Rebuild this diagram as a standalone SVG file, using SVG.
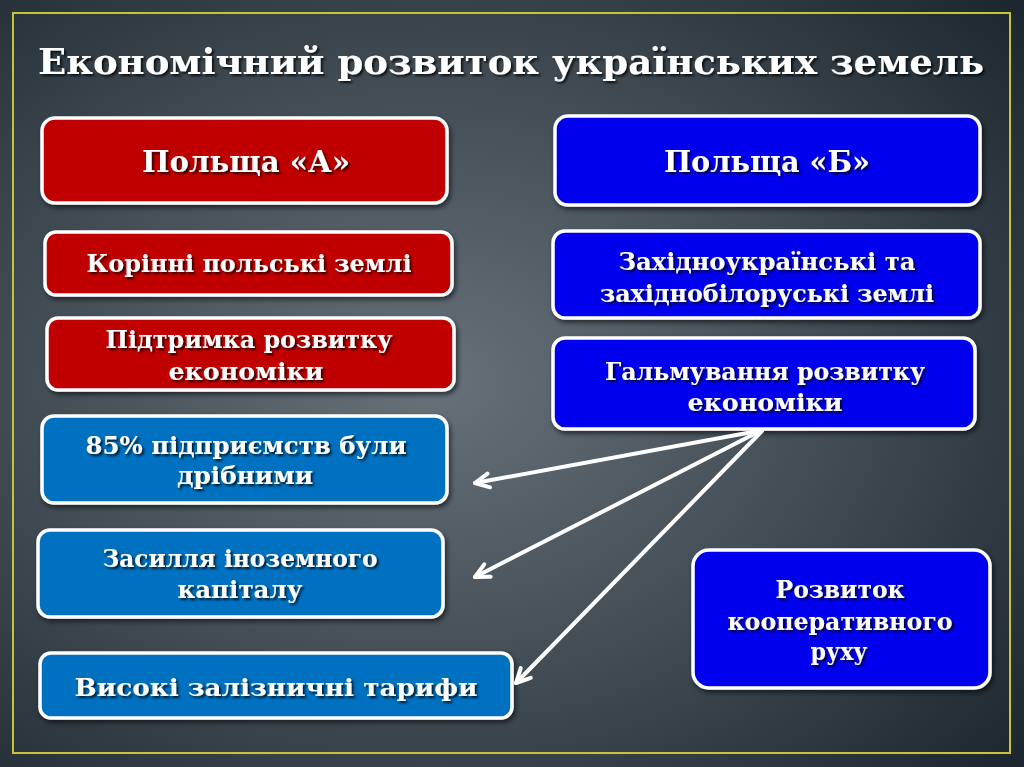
<svg xmlns="http://www.w3.org/2000/svg" width="1024" height="767" viewBox="0 0 1024 767">
<defs>
<radialGradient id="bg" cx="0.42" cy="0.5" r="0.75">
<stop offset="0" stop-color="#66717a"/>
<stop offset="0.55" stop-color="#3f4a53"/>
<stop offset="1" stop-color="#1c2730"/>
</radialGradient>
<filter id="ts" x="-10%" y="-30%" width="120%" height="160%">
<feDropShadow dx="2" dy="2" stdDeviation="1.2" flood-color="#000" flood-opacity="0.75"/>
</filter>
<filter id="bs" x="-10%" y="-20%" width="120%" height="150%">
<feDropShadow dx="2" dy="3" stdDeviation="2.5" flood-color="#000" flood-opacity="0.55"/>
</filter>
<marker id="ah" viewBox="0 0 20 20" refX="17" refY="10" markerWidth="20" markerHeight="20" markerUnits="userSpaceOnUse" orient="auto">
<path d="M3 3 L17 10 L3 17" fill="none" stroke="#fff" stroke-width="4" stroke-linecap="round" stroke-linejoin="round"/>
</marker>
</defs>
<style>
.box{stroke:#fff;stroke-width:3.5;filter:url(#bs)}
.red{fill:#c00000}
.blue{fill:#0000ee}
.steel{fill:#0070c0}
text{font-family:"DejaVu Serif","Liberation Serif",serif;font-weight:bold;fill:#fff;text-anchor:middle;filter:url(#ts)}
.t{font-size:36px}
.h{font-size:30px}
.m{font-size:24px}
.c{stroke:#fff;stroke-width:4;fill:none;stroke-linecap:round}
</style>
<rect width="1024" height="767" fill="url(#bg)"/>
<rect x="13" y="13" width="997" height="740" fill="none" stroke="#c8c23a" stroke-width="2"/>
<text class="t" x="511" y="74" textLength="946" lengthAdjust="spacingAndGlyphs">Економічний розвиток українських земель</text>

<g id="polshaA"><rect class="box red" x="42" y="118" width="405" height="85" rx="13"/><text class="h" x="246" y="172" textLength="208" lengthAdjust="spacingAndGlyphs">Польща «А»</text></g>
<g id="polshaB"><rect class="box blue" x="555" y="116" width="425" height="89" rx="13"/><text class="h" x="767" y="172" textLength="206" lengthAdjust="spacingAndGlyphs">Польща «Б»</text></g>
<g id="korinni"><rect class="box red" x="45" y="232" width="407" height="63" rx="11"/><text class="m" x="249" y="272" textLength="325" lengthAdjust="spacingAndGlyphs">Корінні польські землі</text></g>
<g id="zakhidni"><rect class="box blue" x="553" y="231" width="427" height="87" rx="12"/><text class="m" x="767" y="270" textLength="297" lengthAdjust="spacingAndGlyphs">Західноукраїнські та</text><text class="m" x="767" y="302" textLength="334" lengthAdjust="spacingAndGlyphs">західнобілоруські землі</text></g>
<g id="pidtrymka"><rect class="box red" x="47" y="318" width="407" height="72" rx="11"/><text class="m" x="249" y="348" textLength="287" lengthAdjust="spacingAndGlyphs">Підтримка розвитку</text><text class="m" x="246" y="380" textLength="155" lengthAdjust="spacingAndGlyphs">економіки</text></g>
<g id="halmuvannia"><rect class="box blue" x="553" y="338" width="422" height="91" rx="12"/><text class="m" x="765" y="380" textLength="320" lengthAdjust="spacingAndGlyphs">Гальмування розвитку</text><text class="m" x="765" y="411" textLength="155" lengthAdjust="spacingAndGlyphs">економіки</text></g>
<g id="pidpryiemstva"><rect class="box steel" x="42" y="416" width="405" height="87" rx="12"/><text class="m" x="246" y="454" textLength="321" lengthAdjust="spacingAndGlyphs">85% підприємств були</text><text class="m" x="245" y="484" textLength="136" lengthAdjust="spacingAndGlyphs">дрібними</text></g>
<g id="zasyllia"><rect class="box steel" x="38" y="530" width="405" height="87" rx="12"/><text class="m" x="240" y="567" textLength="275" lengthAdjust="spacingAndGlyphs">Засилля іноземного</text><text class="m" x="240" y="598" textLength="125" lengthAdjust="spacingAndGlyphs">капіталу</text></g>
<g id="taryfy"><rect class="box steel" x="40" y="653" width="472" height="65" rx="11"/><text class="m" x="276" y="696" style="font-size:25px" textLength="403" lengthAdjust="spacingAndGlyphs">Високі залізничні тарифи</text></g>
<g id="kooperatyv"><rect class="box blue" x="693" y="550" width="297" height="138" rx="16"/><text class="m" x="840" y="598" textLength="129" lengthAdjust="spacingAndGlyphs">Розвиток</text><text class="m" x="840" y="630" textLength="225" lengthAdjust="spacingAndGlyphs">кооперативного</text><text class="m" x="839" y="660" textLength="57" lengthAdjust="spacingAndGlyphs">руху</text></g>

<g id="connectors">
<line class="c" x1="758" y1="431" x2="475" y2="483" marker-end="url(#ah)"/>
<line class="c" x1="760" y1="431" x2="475" y2="577" marker-end="url(#ah)"/>
<line class="c" x1="762" y1="431" x2="516" y2="683" marker-end="url(#ah)"/>
</g>
</svg>
